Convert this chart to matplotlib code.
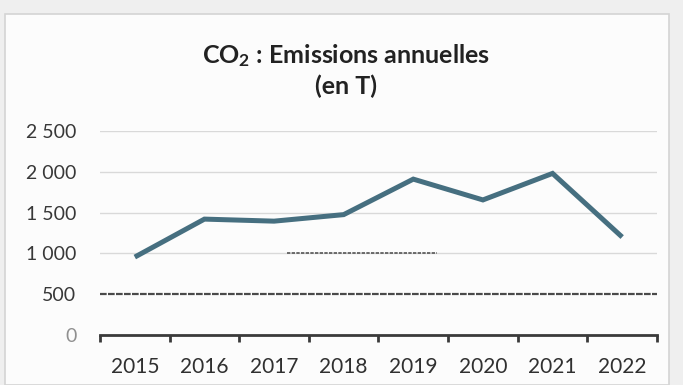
import numpy as np
import matplotlib
matplotlib.use("Agg")
import matplotlib.pyplot as plt
from matplotlib.patches import Rectangle

# ── Data ──────────────────────────────────────────────────────────────────────
years     = ["2015", "2016", "2017", "2018", "2019", "2020", "2021", "2022"]
emissions = [955, 1420, 1395, 1475, 1910, 1655, 1980, 1200]
y_ticks   = [0, 500, 1000, 1500, 2000, 2500]
y_labels  = ["0", "500", "1 000", "1 500", "2 000", "2 500"]

LINE_COLOR = "#466f80"
AXIS_COLOR = "#3a3a3a"
plt.rcParams["font.family"] = ["Lato", "DejaVu Sans"]
plt.rcParams["mathtext.fontset"] = "custom"
plt.rcParams["mathtext.rm"] = "Lato:bold"
plt.rcParams["mathtext.default"] = "rm"

fig = plt.figure(figsize=(6.83, 3.85), dpi=100, facecolor="#efefef")

# chart panel behind the axes
fig.patches.append(Rectangle((0.008, 0.0), 0.972, 0.963, transform=fig.transFigure,
                             facecolor="#fcfcfc", edgecolor="#d4d4d4", linewidth=1.2,
                             zorder=-5))

ax = fig.add_axes([0.1464, 0.1299, 0.8155, 0.5299], zorder=2)
ax.set_facecolor("none")

x = np.arange(len(years))
ax.plot(x, emissions, color=LINE_COLOR, linewidth=3.6, solid_capstyle="butt",
        solid_joinstyle="miter", zorder=3)

ax.set_xlim(-0.5, len(years) - 0.5)
ax.set_ylim(0, 2500)

# gridlines (the 500 one printed darker, part of the 1000 one too)
for v in y_ticks[1:]:
    if v == 500:
        ax.axhline(v, color="#4a4a4a", linewidth=1.6, linestyle=(0, (3, 0.6)), zorder=1)
    else:
        ax.axhline(v, color="#d9d9d9", linewidth=1.0, zorder=1)
ax.axhline(1000, xmin=0.336, xmax=0.605, color="#555555", linewidth=1.2,
           linestyle=(0, (2, 0.8)), zorder=1.5)

ax.set_yticks(y_ticks)
ax.set_yticklabels(y_labels, fontsize=14, color="#383838")
ax.get_yticklabels()[0].set_color("#909090")
ax.tick_params(axis="y", length=0, pad=17)

# category axis: labels centred, ticks between categories
ax.set_xticks(x)
ax.set_xticklabels(years, fontsize=15, color="#303030")
ax.set_xticks(np.arange(len(years) + 1) - 0.5, minor=True)
ax.tick_params(axis="x", which="major", length=0, pad=16)
ax.tick_params(axis="x", which="minor", length=5, width=2, color=AXIS_COLOR,
               direction="out")

for side in ["top", "right", "left"]:
    ax.spines[side].set_visible(False)
ax.spines["bottom"].set_color(AXIS_COLOR)
ax.spines["bottom"].set_linewidth(2)

fig.text(0.507, 0.857, "CO$_2$ : Emissions annuelles", ha="center", va="center",
         fontsize=18, fontweight="bold", color="#222222")
fig.text(0.507, 0.775, "(en T)", ha="center", va="center",
         fontsize=18, fontweight="bold", color="#222222")

fig.savefig("out.png", dpi=100, facecolor=fig.get_facecolor())
